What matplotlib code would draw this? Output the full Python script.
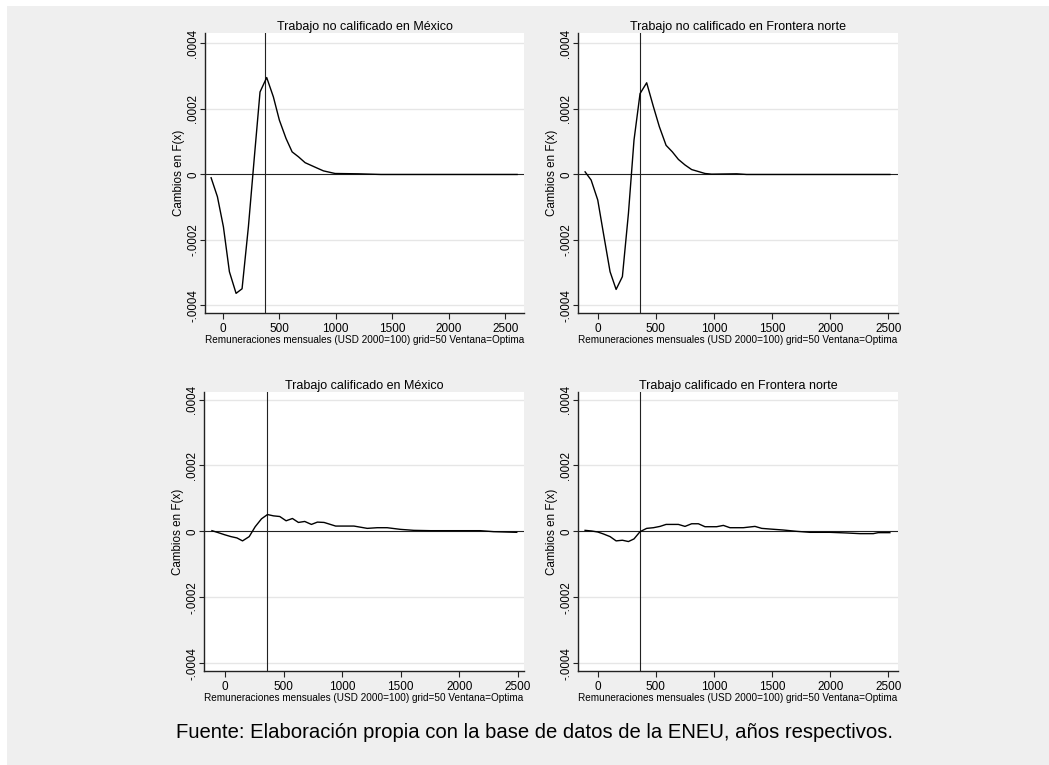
"""Cambios en la distribución de remuneraciones: trabajo calificado y no calificado,
México vs Frontera norte (ENEU)."""
import matplotlib.pyplot as plt
import numpy as np

plt.rcParams["font.family"] = ["Liberation Sans", "DejaVu Sans"]

W, H = 1049, 765
BG = "#efefef"

XLABEL = "Remuneraciones mensuales (USD 2000=100) grid=50 Ventana=Optima"
YLABEL = "Cambios en F(x)"
CAPTION = "Fuente: Elaboración propia con la base de datos de la ENEU, años respectivos."

TITLES = [
    "Trabajo no calificado en México",
    "Trabajo no calificado en Frontera norte",
    "Trabajo calificado en México",
    "Trabajo calificado en Frontera norte",
]

# remuneración (USD 2000=100) and change in F(x), in units of 1e-4
nc_mex_x = [-103, -47, 6, 59, 118, 171, 227, 280, 330, 389, 448, 501, 560, 614,
            670, 729, 832, 891, 994, 1200, 1400, 1600, 2000, 2605]
nc_mex_y = [-0.10, -0.68, -1.60, -2.97, -3.63, -3.49, -1.60, 0.54, 2.52, 2.96,
            2.37, 1.66, 1.10, 0.69, 0.54, 0.36, 0.20, 0.11, 0.03, 0.02, 0.0,
            0.0, 0.0, 0.0]

nc_fn_x = [-109, -57, 0, 49, 106, 158, 212, 264, 312, 364, 421, 479, 530, 588,
           642, 694, 751, 808, 866, 923, 980, 1196, 1281, 1600, 2000, 2514]
nc_fn_y = [0.08, -0.17, -0.78, -1.80, -2.97, -3.51, -3.12, -1.19, 1.05, 2.47,
           2.80, 2.07, 1.46, 0.89, 0.69, 0.46, 0.29, 0.15, 0.09, 0.03, 0.01,
           0.02, 0.0, 0.0, 0.0, 0.0]

c_mex_x = [-111, -57, -6, 51, 102, 150, 207, 258, 312, 363, 414, 468, 522, 576,
           627, 681, 738, 789, 846, 945, 1101, 1215, 1300, 1385, 1498, 1612,
           1754, 2009, 2179, 2293, 2491]
c_mex_y = [0.02, -0.04, -0.10, -0.16, -0.20, -0.29, -0.16, 0.14, 0.38, 0.51,
           0.47, 0.45, 0.32, 0.39, 0.27, 0.30, 0.21, 0.28, 0.27, 0.16, 0.16,
           0.09, 0.11, 0.11, 0.06, 0.03, 0.02, 0.02, 0.02, -0.01, -0.03]

c_fn_x = [-109, -52, 0, 49, 106, 158, 212, 264, 312, 364, 421, 479, 536, 588,
          694, 751, 808, 866, 923, 1023, 1081, 1138, 1253, 1353, 1411, 1482,
          1597, 1712, 1826, 1998, 2142, 2256, 2371, 2414, 2514]
c_fn_y = [0.03, 0.01, -0.02, -0.08, -0.16, -0.29, -0.27, -0.31, -0.23, -0.01,
          0.09, 0.11, 0.15, 0.21, 0.21, 0.15, 0.23, 0.23, 0.14, 0.14, 0.18,
          0.11, 0.11, 0.15, 0.09, 0.07, 0.04, 0.00, -0.03, -0.03, -0.05, -0.07,
          -0.07, -0.04, -0.04]

SERIES = [(nc_mex_x, nc_mex_y), (nc_fn_x, nc_fn_y), (c_mex_x, c_mex_y), (c_fn_x, c_fn_y)]
VLINES = [372, 360, 358, 360]

XTICKS = [0, 500, 1000, 1500, 2000, 2500]
YTICKS = [-0.0004, -0.0002, 0, 0.0002, 0.0004]
YTICKLABELS = ["-.0004", "-.0002", "0", ".0002", ".0004"]

# panel boxes in pixels: left, right, top, bottom; plus axis limits
BOXES = [(205, 524, 33, 313), (578, 898, 33, 313), (204, 524, 392, 671), (578, 898, 392, 671)]
XLIMS = [(-157, 2666), (-170, 2584), (-179, 2553), (-170, 2584)]
YLIMS = [(-0.000423, 0.000432), (-0.000423, 0.000432),
         (-0.000424, 0.000423), (-0.000424, 0.000423)]


def main():
    fig = plt.figure(figsize=(W / 100, H / 100), dpi=100, facecolor="white")
    # light grey graph region with a thin white border on top/left
    fig.patches.append(plt.Rectangle((7 / W, 0), 1, 1 - 6 / H, transform=fig.transFigure,
                                     facecolor=BG, edgecolor="none", zorder=-10))

    for i, (title, (xs, ys)) in enumerate(zip(TITLES, SERIES)):
        left, right, top, bottom = BOXES[i]
        ax = fig.add_axes([left / W, 1 - bottom / H, (right - left) / W, (bottom - top) / H])
        ax.set_facecolor("white")
        for s in ("top", "right"):
            ax.spines[s].set_visible(False)
        for s in ("left", "bottom"):
            ax.spines[s].set_color("#222222")
            ax.spines[s].set_linewidth(1.0)

        for yv in (-0.0004, -0.0002, 0.0002, 0.0004):
            ax.axhline(yv, color="#e6e6e6", linewidth=1.0, zorder=1)
        ax.axhline(0, color="#222222", linewidth=0.8, zorder=2)
        ax.axvline(VLINES[i], color="#222222", linewidth=0.8, zorder=2)

        ax.plot(xs, np.array(ys) * 1e-4, color="black", linewidth=1.0, zorder=3)

        ax.set_xlim(*XLIMS[i])
        ax.set_ylim(*YLIMS[i])
        ax.set_xticks(XTICKS)
        ax.set_xticklabels([str(t) for t in XTICKS], fontsize=8.5)
        ax.set_yticks(YTICKS)
        ax.set_yticklabels(YTICKLABELS, fontsize=8.3, rotation=90, va="center")
        ax.tick_params(axis="x", length=4.5, width=0.8, pad=2.5, color="#222222")
        ax.tick_params(axis="y", length=3.5, width=0.8, pad=0.5, color="#222222")

        ax.set_title(title, fontsize=9, pad=1.5)
        ax.set_ylabel(YLABEL, fontsize=8.4, labelpad=1.5)
        ax.set_xlabel(XLABEL, fontsize=7.2, labelpad=0.5)

    fig.text(535 / W, 1 - 738 / H, CAPTION, ha="center", va="baseline", fontsize=14.6)
    fig.savefig("out.png", dpi=100, facecolor="white")


if __name__ == "__main__":
    main()
